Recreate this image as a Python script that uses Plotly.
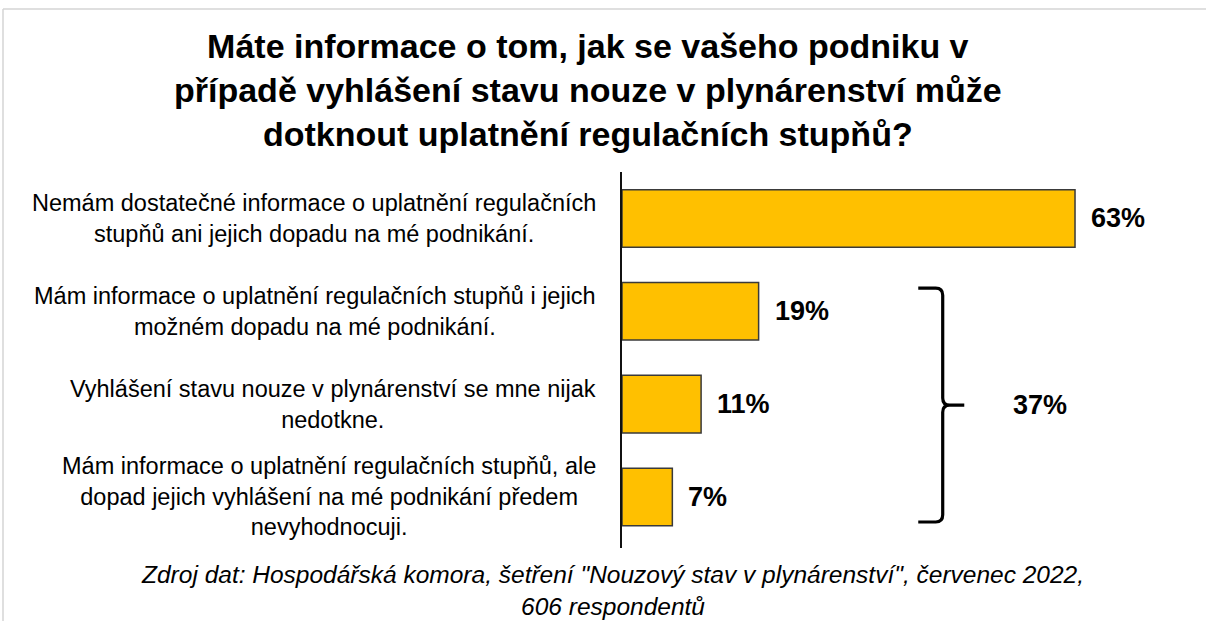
import plotly.graph_objects as go

# ---- data ----
categories = [
    "Nemám dostatečné informace o uplatnění regulačních<br>stupňů ani jejich dopadu na mé podnikání.",
    "Mám informace o uplatnění regulačních stupňů i jejich<br>možném dopadu na mé podnikání.",
    "Vyhlášení stavu nouze v plynárenství se mne nijak<br>nedotkne.",
    "Mám informace o uplatnění regulačních stupňů, ale<br>dopad jejich vyhlášení na mé podnikání předem<br>nevyhodnocuji.",
]
values = [63, 19, 11, 7]
bracket_group = [1, 2, 3]  # indices summed by the bracket
title_text = ("Máte informace o tom, jak se vašeho podniku v<br>"
              "případě vyhlášení stavu nouze v plynárenství může<br>"
              "dotknout uplatnění regulačních stupňů?")
source_text = ("Zdroj dat: Hospodářská komora, šetření \"Nouzový stav v plynárenství\", červenec 2022,<br>"
               "606 respondentů")

FONT = "Liberation Sans, Arial, sans-serif"
W, H = 1206, 621
ML, MR, MT, MB = 622, 26, 172, 73
XMAX = 77.6
positions = list(range(len(categories)))

fig = go.Figure()
fig.add_trace(go.Bar(
    x=values, y=positions, orientation="h", width=0.62,
    marker=dict(color="#FFC000", line=dict(color="#3a3a3a", width=1.5)),
    hoverinfo="skip",
))

annotations = []
# category labels
for p, c in zip(positions, categories):
    annotations.append(dict(x=0, y=p, xref="x", yref="y", text=c, showarrow=False,
                            xanchor="right", yanchor="middle", align="center", xshift=-24,
                            font=dict(family=FONT, size=23.5, color="#000")))
# value labels
for p, v in zip(positions, values):
    annotations.append(dict(x=v, y=p, xref="x", yref="y", text=f"<b>{v}%</b>", showarrow=False,
                            xanchor="left", yanchor="middle", xshift=14,
                            font=dict(family=FONT, size=27, color="#000")))

# bracket spanning grouped items
g_top = min(bracket_group) - 0.25
g_bot = max(bracket_group) + 0.27
g_mid = (g_top + g_bot) / 2
bx, hx, tx = 44.6, 41.2, 47.6
rx, ry = 0.97, 0.077
path = (f"M {hx},{g_top} L {bx-rx},{g_top} Q {bx},{g_top} {bx},{g_top+ry} "
        f"L {bx},{g_mid-ry} Q {bx},{g_mid} {bx+rx},{g_mid} L {tx},{g_mid} "
        f"M {bx+rx},{g_mid} Q {bx},{g_mid} {bx},{g_mid+ry} "
        f"L {bx},{g_bot-ry} Q {bx},{g_bot} {bx-rx},{g_bot} L {hx},{g_bot}")
shapes = [dict(type="path", path=path, xref="x", yref="y",
               line=dict(color="#000", width=3.2))]
group_total = sum(values[i] for i in bracket_group)
annotations.append(dict(x=58.1, y=g_mid, xref="x", yref="y", text=f"<b>{group_total}%</b>",
                        showarrow=False, xanchor="center", yanchor="middle",
                        font=dict(family=FONT, size=27, color="#000")))

# helper for paper coords from pixel layout
pw, ph = W - ML - MR, H - MT - MB
px = lambda v: (v - ML) / pw
py = lambda v: (H - MB - v) / ph

# title
annotations.append(dict(x=px(588), y=py(90), xref="paper", yref="paper", text=f"<b>{title_text}</b>",
                        showarrow=False, xanchor="center", yanchor="middle", align="center",
                        font=dict(family=FONT, size=34, color="#000")))
# source
annotations.append(dict(x=px(612), y=py(590), xref="paper", yref="paper", text=f"<i>{source_text}</i>",
                        showarrow=False, xanchor="center", yanchor="middle", align="center",
                        font=dict(family=FONT, size=24.5, color="#000")))

# light frame lines (top and left)
shapes.append(dict(type="line", xref="paper", yref="paper", x0=px(3), x1=px(W), y0=py(9), y1=py(9),
                   line=dict(color="#d4d4d4", width=1.5)))
shapes.append(dict(type="line", xref="paper", yref="paper", x0=px(3), x1=px(3), y0=py(9), y1=py(H),
                   line=dict(color="#d4d4d4", width=1.5)))

fig.update_layout(
    width=W, height=H,
    margin=dict(l=ML, r=MR, t=MT, b=MB),
    paper_bgcolor="white", plot_bgcolor="white",
    showlegend=False,
    xaxis=dict(range=[0, XMAX], visible=False, fixedrange=True),
    yaxis=dict(range=[3.55, -0.5], showticklabels=False, showgrid=False, zeroline=False,
               ticks="", showline=True, linecolor="#111", linewidth=1.8, fixedrange=True),
    annotations=annotations, shapes=shapes,
)

fig.write_html("out.html", config={"displayModeBar": False},
               post_script="document.body.style.margin='0px';document.body.style.overflow='hidden';")
